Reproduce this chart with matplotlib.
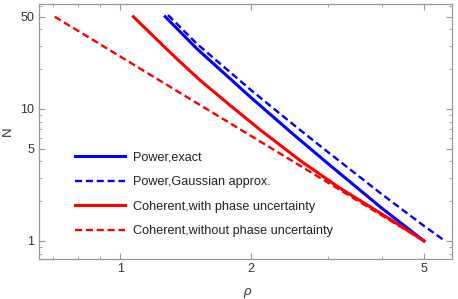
import matplotlib
matplotlib.use("Agg")
import matplotlib.pyplot as plt
from matplotlib.ticker import FixedLocator, NullFormatter

plt.rcParams['font.family'] = ['Liberation Sans', 'DejaVu Sans']

# Data
rho_pow_exact = [1.27, 1.5, 2.0, 2.5, 3.0, 4.0, 5.0]
n_pow_exact = [50, 28.7, 12.2, 6.44, 3.88, 1.77, 1.0]

rho_pow_gauss = [1.289, 1.5, 2.0, 2.5, 3.0, 4.0, 5.0, 5.59]
n_pow_gauss = [51.5, 31.3, 13.9, 7.64, 4.74, 2.26, 1.30, 1.0]

rho_coh_phase = [1.073, 1.2, 1.35, 1.527, 1.8, 2.1, 2.6, 3.2, 4.0, 4.5, 5.0]
n_coh_phase = [50, 34.9, 24.0, 16.5, 10.5, 6.95, 4.05, 2.52, 1.60, 1.25, 1.0]

rho_coh_nophase = [0.707, 1.0, 1.5, 2.0, 3.0, 4.0, 5.0]
n_coh_nophase = [50, 25, 11.1, 6.25, 2.78, 1.56, 1.0]

labels = ["Power,exact", "Power,Gaussian approx.",
          "Coherent,with phase uncertainty", "Coherent,without phase uncertainty"]

x_major = [1, 2, 5]
x_minor = [0.7, 0.8, 0.9, 3, 4]
y_major = [1, 5, 10, 50]
y_minor = [0.8, 0.9, 2, 3, 4, 6, 7, 8, 9, 20, 30, 40, 60]

W, H = 458, 299
fig = plt.figure(figsize=(W / 100, H / 100), dpi=100)
ax = fig.add_axes([38.5 / W, (H - 259.3) / H, (452.3 - 38.5) / W, (259.3 - 4) / H])

blue = '#0000ff'
red = '#ff0000'
ax.plot(rho_pow_exact, n_pow_exact, color=blue, lw=2.2, label=labels[0])
ax.plot(rho_pow_gauss, n_pow_gauss, color=blue, lw=1.7, dashes=(3, 1.6), label=labels[1])
ax.plot(rho_coh_phase, n_coh_phase, color=red, lw=2.2, label=labels[2])
ax.plot(rho_coh_nophase, n_coh_nophase, color=red, lw=1.7, dashes=(3, 1.6), label=labels[3])

ax.set_xscale('log')
ax.set_yscale('log')
ax.set_xlim(0.649, 5.81)
ax.set_ylim(0.726, 62.4)

ax.xaxis.set_major_locator(FixedLocator(x_major))
ax.xaxis.set_minor_locator(FixedLocator(x_minor))
ax.yaxis.set_major_locator(FixedLocator(y_major))
ax.yaxis.set_minor_locator(FixedLocator(y_minor))
ax.set_xticklabels([str(v) for v in x_major])
ax.set_yticklabels([str(v) for v in y_major])
ax.xaxis.set_minor_formatter(NullFormatter())
ax.yaxis.set_minor_formatter(NullFormatter())

frame_col = '#999999'
for s in ax.spines.values():
    s.set_color(frame_col)
    s.set_linewidth(0.9)
ax.tick_params(which='both', direction='in', top=True, right=True,
               color=frame_col, labelcolor='#333333', labelsize=9)
ax.tick_params(which='major', length=4.5, width=0.8, pad=3)
ax.tick_params(which='minor', length=2.5, width=0.6)

ax.set_xlabel('ρ', fontsize=9.5, color='#333333', style='italic')
ax.set_ylabel('N', fontsize=9.5, color='#333333')
ax.xaxis.set_label_coords((247 - 38.5) / 413.8, -0.105)
ax.yaxis.set_label_coords(-0.060, 0.5)

leg = ax.legend(loc='upper left', bbox_to_anchor=(75 / W, 1 - 151.5 / H),
                bbox_transform=fig.transFigure, frameon=False, fontsize=9.1,
                handlelength=3.96, handletextpad=0.63, labelspacing=1.0,
                borderaxespad=0, borderpad=0)
for t in leg.get_texts():
    t.set_color('#222222')

fig.savefig('out.png', dpi=100)
